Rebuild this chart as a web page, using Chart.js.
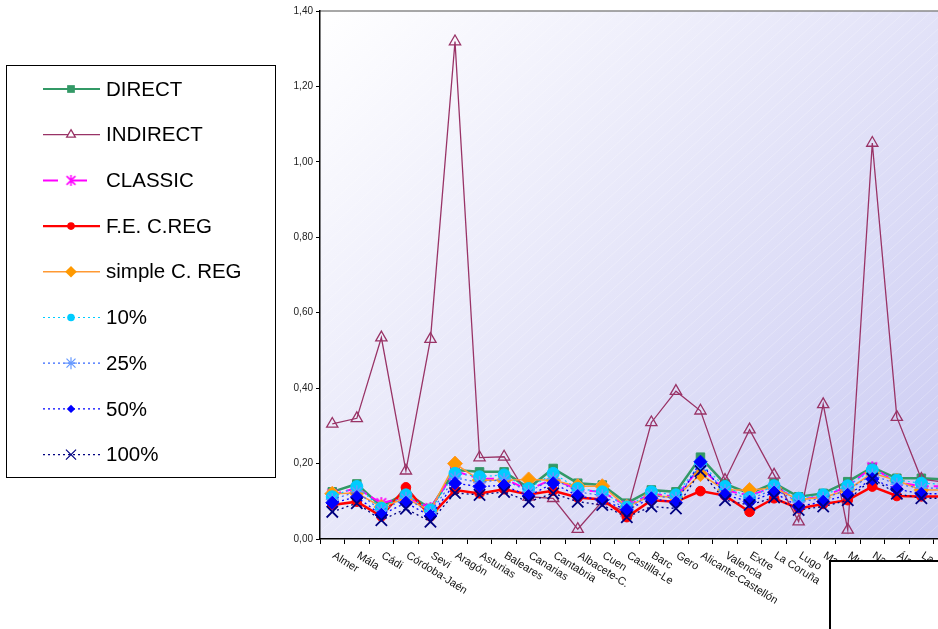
<!DOCTYPE html>
<html>
<head>
<meta charset="utf-8">
<script src="https://cdn.jsdelivr.net/npm/chart.js@4.4.1/dist/chart.umd.min.js"></script>
<style>
  html, body { margin: 0; padding: 0; background: #fff; overflow: hidden; width: 938px; height: 629px; }
  #wrap { position: absolute; left: 0; top: 0; width: 968px; height: 629px; }
</style>
</head>
<body>
<div id="wrap"><canvas id="c" width="968" height="629"></canvas></div>
<script>
// Regions along the horizontal axis
const regions = ["Almer", "Mála", "Cádi", "Córdoba-Jaén", "Sevi", "Aragón", "Asturias", "Baleares",
  "Canarias", "Cantabria", "Albacete-C.", "Cuen", "Castilla-Le", "Barc", "Gero", "Alicante-Castellón",
  "Valencia", "Extre", "La Coruña", "Lugo", "Madrid", "Murcia", "Navarra", "Álava", "La Rioja", "Vizcaya"];

// Vertical axis ticks
const yTicks = [0, 0.2, 0.4, 0.6, 0.8, 1.0, 1.2, 1.4];

// Series values per region
const direct   = [0.125,0.146,0.086,0.122,0.081,0.183,0.178,0.178,0.135,0.187,0.148,0.143,0.095,0.130,0.125,0.217,0.146,0.121,0.148,0.112,0.121,0.152,0.190,0.161,0.161,0.158];
const indirect = [0.305,0.320,0.534,0.181,0.530,1.319,0.216,0.218,0.112,0.108,0.026,0.100,0.070,0.309,0.392,0.340,0.156,0.290,0.170,0.046,0.357,0.024,1.050,0.323,0.159,0.150];
const classic  = [0.118,0.135,0.095,0.112,0.082,0.180,0.160,0.160,0.130,0.160,0.130,0.125,0.088,0.120,0.112,0.190,0.130,0.115,0.138,0.105,0.112,0.140,0.190,0.150,0.140,0.140];
const feCReg   = [0.090,0.099,0.060,0.137,0.060,0.130,0.121,0.132,0.118,0.128,0.110,0.105,0.058,0.103,0.099,0.127,0.115,0.072,0.108,0.081,0.093,0.103,0.139,0.114,0.113,0.113];
const simpleCReg = [0.120,0.122,0.085,0.108,0.075,0.200,0.156,0.156,0.158,0.156,0.140,0.140,0.085,0.115,0.110,0.172,0.130,0.130,0.135,0.105,0.110,0.130,0.175,0.155,0.130,0.130];
const p10  = [0.112,0.139,0.082,0.117,0.077,0.174,0.165,0.170,0.134,0.174,0.134,0.125,0.085,0.125,0.117,0.200,0.139,0.110,0.141,0.108,0.117,0.141,0.183,0.156,0.148,0.145];
const p25  = [0.105,0.125,0.075,0.108,0.070,0.162,0.150,0.158,0.125,0.160,0.125,0.115,0.080,0.115,0.108,0.195,0.128,0.105,0.132,0.098,0.108,0.130,0.170,0.145,0.135,0.135];
const p50  = [0.096,0.111,0.064,0.096,0.061,0.148,0.139,0.142,0.114,0.148,0.114,0.103,0.077,0.108,0.096,0.205,0.117,0.099,0.123,0.086,0.099,0.117,0.159,0.132,0.120,0.120];
const p100 = [0.072,0.095,0.050,0.080,0.046,0.122,0.117,0.125,0.099,0.121,0.099,0.090,0.058,0.086,0.081,0.180,0.103,0.090,0.110,0.077,0.086,0.103,0.160,0.120,0.108,0.108];

const FONT = "'Liberation Sans', Arial, sans-serif";

// Asterisk-like marker (X with a vertical stroke) for the CLASSIC series
function starMark(color, size, lw) {
  const c = document.createElement('canvas');
  c.width = size; c.height = size;
  const g = c.getContext('2d');
  g.strokeStyle = color; g.lineWidth = lw;
  const m = size / 2, r = size / 2 - 1;
  g.beginPath();
  g.moveTo(m - r * 0.8, m - r * 0.8); g.lineTo(m + r * 0.8, m + r * 0.8);
  g.moveTo(m + r * 0.8, m - r * 0.8); g.lineTo(m - r * 0.8, m + r * 0.8);
  g.moveTo(m, m - r); g.lineTo(m, m + r);
  g.stroke();
  return c;
}
const classicMark = starMark('#ff00ff', 14, 1.8);
const classicLegendMark = starMark('#ff00ff', 13, 1.5);

const series = [
  { label: 'DIRECT', data: direct, color: '#339966', fill: '#339966', width: 2.5, dash: [], style: 'rect', r: 6, lr: 5.5 },
  { label: 'INDIRECT', data: indirect, color: '#993366', fill: 'rgba(0,0,0,0)', width: 1.3, dash: [], style: 'triangle', r: 6.5, lr: 5, bw: 1.3 },
  { label: 'CLASSIC', data: classic, color: '#ff00ff', fill: '#ff00ff', width: 2, dash: [9, 5], style: classicMark, r: 7, lr: 6, legendImg: classicLegendMark },
  { label: 'F.E. C.REG', data: feCReg, color: '#ff0000', fill: '#ff0000', width: 2.5, dash: [], style: 'circle', r: 4.8, lr: 3.8 },
  { label: 'simple C. REG', data: simpleCReg, color: '#ff9933', fill: '#ff9900', width: 1.5, dash: [], style: 'rectRot', r: 7.5, lr: 5.8 },
  { label: '10%', data: p10, color: '#00ccff', fill: '#00ccff', width: 1.2, dash: [2, 3], style: 'circle', r: 6, lr: 3.8 },
  { label: '25%', data: p25, color: '#3366ff', fill: '#3366ff', width: 1.2, dash: [2, 3], style: 'star', r: 6.5, lr: 6, bw: 1.5, stroke: '#6699ff' },
  { label: '50%', data: p50, color: '#0000ff', fill: '#0000ff', width: 1.3, dash: [2, 3], style: 'rectRot', r: 6.5, lr: 4.2 },
  { label: '100%', data: p100, color: '#000080', fill: '#000080', width: 1.3, dash: [2, 3], style: 'crossRot', r: 8, lr: 7, bw: 1.8 }
];

const datasets = series.map((s, i) => ({
  label: s.label,
  data: s.data,
  borderColor: s.color,
  backgroundColor: s.fill,
  borderWidth: s.width,
  borderDash: s.dash,
  pointStyle: s.style,
  pointRadius: s.r,
  pointBackgroundColor: s.fill,
  pointBorderColor: s.stroke || s.color,
  pointBorderWidth: s.bw || 1,
  tension: 0,
  fill: false,
  order: series.length - i
}));

// Plot background: diagonal white-to-lavender gradient with faint hatching
const backdrop = {
  id: 'backdrop',
  beforeDraw(chart) {
    const { ctx, chartArea: a } = chart;
    ctx.save();
    const grad = ctx.createLinearGradient(a.left, a.top, a.left + 700, a.bottom + 150);
    grad.addColorStop(0, '#ffffff');
    grad.addColorStop(1, '#c0c0f0');
    ctx.fillStyle = grad;
    ctx.fillRect(a.left, a.top, a.right - a.left, a.bottom - a.top);
    ctx.beginPath();
    ctx.rect(a.left, a.top, a.right - a.left, a.bottom - a.top);
    ctx.clip();
    ctx.strokeStyle = 'rgba(255,255,255,0.25)';
    ctx.lineWidth = 1;
    const h = a.bottom - a.top;
    for (let x = a.left - h; x < a.right + h; x += 13) {
      ctx.beginPath();
      ctx.moveTo(x, a.bottom);
      ctx.lineTo(x + h * 1.1, a.top);
      ctx.stroke();
    }
    ctx.restore();
    ctx.save();
    ctx.strokeStyle = '#8a8a8a';
    ctx.lineWidth = 1.5;
    ctx.beginPath();
    ctx.moveTo(a.left, a.top);
    ctx.lineTo(a.right, a.top);
    ctx.stroke();
    ctx.restore();
  }
};

function legendMarker(ctx, s, x, y) {
  const r = s.lr;
  ctx.save();
  ctx.setLineDash([]);
  ctx.fillStyle = s.fill;
  ctx.strokeStyle = s.stroke || s.color;
  ctx.lineWidth = s.bw || 1;
  if (s.legendImg) {
    ctx.drawImage(s.legendImg, x - s.legendImg.width / 2, y - s.legendImg.height / 2);
  } else if (s.style === 'rect') {
    ctx.fillRect(x - r * 0.7, y - r * 0.7, r * 1.4, r * 1.4);
  } else if (s.style === 'triangle') {
    ctx.beginPath();
    ctx.moveTo(x, y - r);
    ctx.lineTo(x + r * 0.87, y + r * 0.5);
    ctx.lineTo(x - r * 0.87, y + r * 0.5);
    ctx.closePath();
    ctx.fillStyle = '#ffffff';
    ctx.fill();
    ctx.stroke();
  } else if (s.style === 'circle') {
    ctx.beginPath();
    ctx.arc(x, y, r, 0, Math.PI * 2);
    ctx.fill();
  } else if (s.style === 'rectRot') {
    ctx.beginPath();
    ctx.moveTo(x, y - r); ctx.lineTo(x + r, y); ctx.lineTo(x, y + r); ctx.lineTo(x - r, y);
    ctx.closePath();
    ctx.fill();
  } else if (s.style === 'star') {
    ctx.lineWidth = 1.2;
    ctx.beginPath();
    ctx.moveTo(x - r, y); ctx.lineTo(x + r, y);
    ctx.moveTo(x, y - r); ctx.lineTo(x, y + r);
    const d = r * 0.75;
    ctx.moveTo(x - d, y - d); ctx.lineTo(x + d, y + d);
    ctx.moveTo(x + d, y - d); ctx.lineTo(x - d, y + d);
    ctx.stroke();
  } else if (s.style === 'crossRot') {
    ctx.lineWidth = 1.2;
    const d = r * 0.72;
    ctx.beginPath();
    ctx.moveTo(x - d, y - d); ctx.lineTo(x + d, y + d);
    ctx.moveTo(x + d, y - d); ctx.lineTo(x - d, y + d);
    ctx.stroke();
  }
  ctx.restore();
}

// Rotated region names, the legend panel and the lower-right panel
const overlay = {
  id: 'overlay',
  afterDraw(chart) {
    const { ctx } = chart;
    const xs = chart.scales.x;
    const ang = 32 * Math.PI / 180;
    ctx.save();
    ctx.font = '11px ' + FONT;
    ctx.fillStyle = '#111';
    ctx.textAlign = 'left';
    ctx.textBaseline = 'top';
    regions.forEach((name, i) => {
      const px = xs.getPixelForValue(i);
      ctx.save();
      ctx.translate(px + 4, 550);
      ctx.rotate(ang);
      ctx.fillText(name, 0, 0);
      ctx.restore();
    });
    ctx.restore();

    // Legend panel
    ctx.save();
    ctx.fillStyle = '#ffffff';
    ctx.fillRect(6.5, 65.5, 269, 412);
    ctx.strokeStyle = '#000';
    ctx.lineWidth = 1;
    ctx.strokeRect(6.5, 65.5, 269, 412);
    const rowY0 = 89, rowStep = 45.7;
    series.forEach((s, i) => {
      const y = rowY0 + i * rowStep;
      ctx.save();
      ctx.strokeStyle = s.color;
      ctx.lineWidth = Math.min(s.width, 2.2);
      ctx.setLineDash(s.label === 'CLASSIC' ? [15, 14] : s.dash);
      ctx.beginPath();
      ctx.moveTo(43, y);
      ctx.lineTo(100, y);
      ctx.stroke();
      ctx.restore();
      legendMarker(ctx, s, 71, y);
      ctx.fillStyle = '#000';
      ctx.font = '20.5px ' + FONT;
      ctx.textBaseline = 'middle';
      ctx.textAlign = 'left';
      ctx.fillText(s.label, 106, y + 1);
    });
    ctx.restore();

    // Lower-right panel
    ctx.save();
    ctx.fillStyle = '#ffffff';
    ctx.fillRect(830, 561, 200, 100);
    ctx.strokeStyle = '#000';
    ctx.lineWidth = 2;
    ctx.strokeRect(830, 561, 200, 100);
    ctx.restore();
  }
};

new Chart(document.getElementById('c'), {
  type: 'line',
  data: { labels: regions, datasets },
  options: {
    responsive: false,
    animation: false,
    devicePixelRatio: 1,
    layout: { padding: { top: 11, right: 0, left: 0, bottom: 0 } },
    plugins: { legend: { display: false }, tooltip: { enabled: false } },
    scales: {
      x: {
        type: 'category',
        offset: true,
        grid: { display: true, drawOnChartArea: false, drawTicks: true, tickLength: 5, color: '#000', offset: true },
        border: { display: true, color: '#000', width: 1.5 },
        ticks: { display: false },
        afterFit(s) { s.height = 90; }
      },
      y: {
        min: 0,
        max: 1.4,
        afterBuildTicks(s) { s.ticks = yTicks.map(v => ({ value: v })); },
        ticks: {
          callback: v => Number(v).toFixed(2).replace('.', ','),
          font: { family: FONT, size: 10 },
          color: '#222',
          padding: 3
        },
        grid: { drawOnChartArea: false, drawTicks: true, tickLength: 4, color: '#000' },
        border: { display: true, color: '#000', width: 1.5 },
        afterFit(s) { s.width = 320; }
      }
    }
  },
  plugins: [backdrop, overlay]
});
</script>
</body>
</html>
